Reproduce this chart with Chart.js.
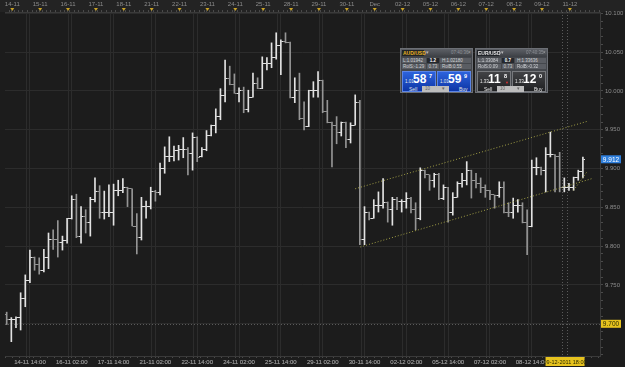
<!DOCTYPE html>
<html>
<head>
<meta charset="utf-8">
<script src="https://cdn.jsdelivr.net/npm/chart.js@4.4.1/dist/chart.umd.min.js"></script>
<style>
html, body { margin: 0; padding: 0; background: #1c1c1c; }
#wrap { position: relative; width: 625px; height: 367px; overflow: hidden; }
canvas { display: block; }
.panel { position: absolute; top: 48px; width: 73px; height: 45px; background: #44474c; border: 1px solid #6c6f75;
  box-sizing: border-box; font-family: "Liberation Sans", Arial, sans-serif; color: #cfd1d4; font-size: 4.5px; }
.panel div, .panel span { position: absolute; white-space: nowrap; }
.hd { left: 0; top: 0; width: 71px; height: 8px; background: linear-gradient(#5d6066, #3c3f44); }
.nm { left: 1px; top: 1px; width: 22px; height: 6px; line-height: 6px; background: #202328; font-weight: bold; font-size: 5px; padding-left: 1px; box-sizing: border-box; }
.dd { left: 25px; top: 1px; line-height: 6px; color: #bbb; }
.tm { left: 50px; top: 1px; line-height: 6px; color: #8e9197; }
.xx { left: 67px; top: 1px; line-height: 6px; color: #aaa; }
.c1 { left: 1px; width: 24px; height: 5px; line-height: 5px; background: #5a5d63; padding-left: 1px; box-sizing: border-box; overflow: hidden; }
.mid { left: 26px; width: 12px; height: 5px; line-height: 5px; background: #25282d; color: #fff; font-weight: bold; text-align: center; }
.c3 { left: 39px; width: 31px; height: 5px; line-height: 5px; background: #5a5d63; padding-left: 2px; box-sizing: border-box; overflow: hidden; }
.btn { top: 22px; width: 34px; height: 21px; }
.blue { background: linear-gradient(#2d63dc, #0d35a6); border: 1px solid #5a84e6; box-sizing: border-box; }
.dark { background: linear-gradient(#424346, #1f2022); border: 1px solid #77797d; box-sizing: border-box; }
.sm { left: 2px; top: 7px; font-size: 4.5px; color: #e8e8e8; }
.big { left: 10px; top: 0px; font-size: 12px; font-weight: bold; color: #fff; }
.sup { left: 26px; top: 1px; font-size: 5.5px; color: #fff; font-weight: bold; }
.lbl { top: 14px; font-size: 5px; color: #e6e6e6; }
.dd2 { left: 21px; top: 37px; width: 27px; height: 6px; line-height: 6px; background: #bdbdbd; color: #666; padding-left: 3px; box-sizing: border-box; }
</style>
</head>
<body>
<div id="wrap">
  <canvas id="myChart" width="625" height="367"></canvas>

  <div class="panel" style="left:400px">
    <div class="hd"><span class="nm" style="color:#e6b422">AUD/USD</span><span class="dd">▾</span><span class="tm">07:40:36</span><span class="xx">×</span></div>
    <div style="top:9px;left:0;width:71px;height:5px"><span class="c1">L:1.01942</span><span class="mid">1.2</span><span class="c3">H:1.02180</span></div>
    <div style="top:15px;left:0;width:71px;height:5px"><span class="c1">RolS:-1.29</span><span class="mid" style="background:#5a5d63;color:#cfd1d4;font-weight:normal">0.73</span><span class="c3">RolB:0.55</span></div>
    <div class="btn blue" style="left:1px"><span class="sm">1.01</span><span class="big">58</span><span class="sup">7</span><span class="lbl" style="left:6px">Sell</span></div>
    <div class="btn blue" style="left:36px"><span class="sm">1.01</span><span class="big">59</span><span class="sup">9</span><span class="lbl" style="left:21px">Buy</span></div>
    <div class="dd2">10 <span style="left:20px;top:0">▾</span></div>
  </div>

  <div class="panel" style="left:475px">
    <div class="hd"><span class="nm" style="color:#e8e8e8">EUR/USD</span><span class="dd">▾</span><span class="tm">07:40:35</span><span class="xx">×</span></div>
    <div style="top:9px;left:0;width:71px;height:5px"><span class="c1">L:1.33084</span><span class="mid">0.7</span><span class="c3">H:1.33636</span></div>
    <div style="top:15px;left:0;width:71px;height:5px"><span class="c1">RolS:0.09</span><span class="mid" style="background:#5a5d63;color:#cfd1d4;font-weight:normal">0.73</span><span class="c3">RolB:-0.32</span></div>
    <div class="btn dark" style="left:1px"><span class="sm">1.33</span><span class="big">11</span><span class="sup">8</span><span style="left:27px;top:8px;font-size:4px;color:#e03030">▼</span><span class="lbl" style="left:6px">Sell</span></div>
    <div class="btn dark" style="left:36px"><span class="sm">1.33</span><span class="big">12</span><span class="sup">0</span><span class="lbl" style="left:21px">Buy</span></div>
    <div class="dd2">10 <span style="left:20px;top:0">▾</span></div>
  </div>
</div>

<script>
// 4H bars
var opens = [
  9.712, 9.705, 9.705, 9.708, 9.732, 9.756, 9.785, 9.776, 9.769, 9.786,
  9.809, 9.808, 9.805, 9.807, 9.836, 9.860, 9.812, 9.838, 9.831, 9.860,
  9.870, 9.843, 9.844, 9.844, 9.872, 9.872, 9.875, 9.874, 9.826, 9.811,
  9.851, 9.851, 9.870, 9.869, 9.900, 9.915, 9.916, 9.923, 9.924, 9.924,
  9.920, 9.940, 9.915, 9.924, 9.943, 9.955, 9.967, 9.994, 10.016, 10.009,
  9.997, 10.001, 9.976, 9.992, 10.010, 10.003, 10.036, 10.036, 10.043, 10.059,
  10.064, 10.063, 9.991, 10.000, 9.965, 9.954, 10.000, 10.000, 10.014, 9.973,
  9.959, 9.955, 9.946, 9.959, 9.938, 9.956, 9.985, 9.808, 9.843, 9.836,
  9.853, 9.853, 9.856, 9.847, 9.860, 9.857, 9.857, 9.862, 9.847, 9.836,
  9.898, 9.892, 9.885, 9.892, 9.862, 9.876, 9.844, 9.863, 9.881, 9.885,
  9.898, 9.885, 9.881, 9.876, 9.872, 9.866, 9.865, 9.876, 9.844, 9.843,
  9.853, 9.853, 9.831, 9.825, 9.901, 9.901, 9.898, 9.918, 9.918, 9.915,
  9.876, 9.876, 9.876, 9.888, 9.896
];
var highs = [
  9.715, 9.708, 9.709, 9.740, 9.763, 9.795, 9.786, 9.785, 9.796, 9.817,
  9.821, 9.833, 9.813, 9.836, 9.865, 9.867, 9.851, 9.847, 9.863, 9.888,
  9.878, 9.871, 9.879, 9.880, 9.885, 9.887, 9.876, 9.874, 9.842, 9.863,
  9.858, 9.876, 9.872, 9.907, 9.928, 9.941, 9.929, 9.930, 9.940, 9.927,
  9.946, 9.941, 9.927, 9.949, 9.956, 9.977, 10.003, 10.040, 10.032, 10.022,
  10.004, 10.005, 10.001, 10.023, 10.017, 10.044, 10.043, 10.062, 10.075, 10.066,
  10.075, 10.063, 10.017, 10.023, 9.986, 10.001, 10.012, 10.025, 10.014, 9.988,
  9.960, 9.967, 9.960, 9.960, 9.959, 9.995, 9.988, 9.851, 9.844, 9.860,
  9.870, 9.887, 9.857, 9.863, 9.863, 9.860, 9.869, 9.863, 9.856, 9.901,
  9.898, 9.892, 9.894, 9.894, 9.879, 9.876, 9.869, 9.883, 9.894, 9.909,
  9.898, 9.894, 9.888, 9.879, 9.872, 9.866, 9.883, 9.883, 9.856, 9.862,
  9.860, 9.856, 9.847, 9.911, 9.914, 9.902, 9.927, 9.947, 9.918, 9.921,
  9.888, 9.881, 9.889, 9.898, 9.915
];
var lows = [
  9.699, 9.677, 9.695, 9.692, 9.722, 9.753, 9.769, 9.764, 9.767, 9.771,
  9.796, 9.786, 9.795, 9.804, 9.835, 9.811, 9.804, 9.817, 9.813, 9.857,
  9.836, 9.835, 9.838, 9.827, 9.865, 9.869, 9.851, 9.826, 9.790, 9.808,
  9.836, 9.848, 9.858, 9.866, 9.894, 9.909, 9.910, 9.911, 9.914, 9.892,
  9.898, 9.909, 9.915, 9.923, 9.942, 9.946, 9.963, 9.986, 10.008, 9.997,
  9.986, 9.972, 9.973, 9.992, 10.003, 10.003, 10.027, 10.030, 10.041, 10.021,
  10.062, 9.991, 9.985, 9.963, 9.950, 9.954, 9.992, 9.992, 9.972, 9.959,
  9.902, 9.932, 9.942, 9.927, 9.933, 9.956, 9.802, 9.802, 9.834, 9.836,
  9.844, 9.849, 9.831, 9.827, 9.847, 9.844, 9.849, 9.843, 9.821, 9.834,
  9.888, 9.872, 9.876, 9.860, 9.860, 9.831, 9.840, 9.863, 9.876, 9.879,
  9.862, 9.875, 9.869, 9.863, 9.860, 9.849, 9.863, 9.843, 9.838, 9.836,
  9.844, 9.830, 9.789, 9.825, 9.892, 9.892, 9.870, 9.915, 9.870, 9.870,
  9.870, 9.872, 9.872, 9.885, 9.888
];
var closes = [
  9.705, 9.705, 9.708, 9.732, 9.756, 9.785, 9.776, 9.769, 9.786, 9.809,
  9.808, 9.805, 9.807, 9.836, 9.860, 9.812, 9.838, 9.831, 9.860, 9.870,
  9.843, 9.844, 9.844, 9.872, 9.872, 9.875, 9.874, 9.826, 9.811, 9.851,
  9.851, 9.870, 9.869, 9.900, 9.915, 9.916, 9.923, 9.924, 9.924, 9.920,
  9.940, 9.914, 9.924, 9.943, 9.955, 9.967, 9.994, 10.016, 10.009, 9.997,
  10.001, 9.976, 9.992, 10.010, 10.003, 10.036, 10.036, 10.043, 10.059, 10.064,
  10.063, 9.991, 10.000, 9.965, 9.954, 10.000, 10.000, 10.014, 9.973, 9.959,
  9.955, 9.946, 9.959, 9.938, 9.956, 9.985, 9.808, 9.843, 9.836, 9.853,
  9.853, 9.856, 9.847, 9.860, 9.857, 9.857, 9.862, 9.847, 9.836, 9.898,
  9.892, 9.885, 9.892, 9.862, 9.876, 9.844, 9.863, 9.881, 9.885, 9.898,
  9.885, 9.881, 9.876, 9.872, 9.866, 9.865, 9.876, 9.844, 9.843, 9.853,
  9.853, 9.831, 9.825, 9.901, 9.901, 9.898, 9.918, 9.918, 9.915, 9.876,
  9.876, 9.876, 9.888, 9.896, 9.912
];

// top axis: day names and the bar where each day starts
var dayLabels = ['14-11','15-11','16-11','17-11','18-11','21-11','22-11','23-11','24-11','25-11',
  '28-11','29-11','30-11','Dec','02-12','05-12','06-12','07-12','08-12','09-12','11-12'];
var dayBars = [1,7,13,19,25,31,37,43,49,55,61,67,73,79,85,91,97,103,109,115,121];

// bottom axis
var timeLabels = ['14-11 14:00','16-11 02:00','17-11 14:00','21-11 02:00','22-11 14:00','24-11 02:00',
  '25-11 14:00','29-11 02:00','30-11 14:00','02-12 02:00','05-12 14:00','07-12 02:00','08-12 14:00'];
var timeBars = [5,14,23,32,41,50,59,68,77,86,95,104,113];

// right axis
var priceTicks = [9.70, 9.75, 9.80, 9.85, 9.90, 9.95, 10.00, 10.05, 10.10];

// channel drawn on the chart (bar, price)
var upperLine = [[75.0, 9.874], [125.0, 9.961]];
var lowerLine = [[76.1, 9.799], [125.9, 9.887]];
var shortLine = [[122.0, 9.872], [124.9, 9.896]];

// cursor
var crossBars = [119.5, 120.6];
var crossPrice = 9.700;
var crossLabel = '09-12-2011 18:00';

var FONT = '"Liberation Sans", Arial, sans-serif';
var UP = '#e2e2e2', DOWN = '#959595';

function tickImg(color, side) {
    var c = document.createElement('canvas');
    c.width = 5; c.height = 1;
    var g = c.getContext('2d');
    g.fillStyle = color;
    g.fillRect(side == 'open' ? 0 : 3, 0, 2, 1);
    return c;
}
var imgs = {
    openUp: tickImg(UP, 'open'), openDown: tickImg(DOWN, 'open'),
    closeUp: tickImg(UP, 'close'), closeDown: tickImg(DOWN, 'close')
};

var isUp = closes.map(function (c, i) { return c >= opens[i]; });

var barData = highs.map(function (h, i) { return { x: i, y: [lows[i], h] }; });
var openData = opens.map(function (o, i) { return { x: i, y: o }; });
var closeData = closes.map(function (c, i) { return { x: i, y: c }; });

function toPts(arr) { return arr.map(function (p) { return { x: p[0], y: p[1] }; }); }

var xMin = -0.363, xMax = 127.68;

function isIn(list, v, eps) {
    for (var i = 0; i < list.length; i++) if (Math.abs(list[i] - v) < eps) return i;
    return -1;
}

var extras = {
    id: 'extras',
    beforeDraw: function (chart) {
        var ctx = chart.ctx, a = chart.chartArea;
        ctx.save();
        ctx.fillStyle = '#1c1c1c';
        ctx.fillRect(0, 0, chart.width, chart.height);
        ctx.fillStyle = '#232323';
        ctx.fillRect(0, 0, chart.width, a.top);
        ctx.restore();
    },
    beforeDatasetsDraw: function (chart) {
        var ctx = chart.ctx, a = chart.chartArea, x = chart.scales.x, y = chart.scales.y;
        ctx.save();
        ctx.strokeStyle = '#5a5a5a';
        ctx.lineWidth = 1;
        ctx.setLineDash([1, 2]);
        crossBars.forEach(function (b) {
            var px = Math.round(x.getPixelForValue(b)) + 0.5;
            ctx.beginPath(); ctx.moveTo(px, a.top); ctx.lineTo(px, a.bottom); ctx.stroke();
        });
        var py = Math.round(y.getPixelForValue(crossPrice)) + 0.5;
        ctx.beginPath(); ctx.moveTo(a.left, py); ctx.lineTo(a.right, py); ctx.stroke();
        ctx.restore();
    },
    afterDraw: function (chart) {
        var ctx = chart.ctx, a = chart.chartArea, x = chart.scales.x, y = chart.scales.y, xt = chart.scales.xTop;
        ctx.save();
        // day markers on the top axis
        ctx.fillStyle = '#c9a227';
        dayBars.forEach(function (b) {
            var px = xt.getPixelForValue(b + 0.2);
            ctx.beginPath();
            ctx.moveTo(px - 2, a.top - 4);
            ctx.lineTo(px + 2, a.top - 4);
            ctx.lineTo(px, a.top - 1);
            ctx.closePath();
            ctx.fill();
        });
        ctx.font = '6.5px ' + FONT;
        ctx.textBaseline = 'middle';
        ctx.textAlign = 'center';
        // last price box
        var last = closes[closes.length - 1];
        var ly = y.getPixelForValue(last);
        ctx.fillStyle = '#2f7fdc';
        ctx.fillRect(a.right + 1, ly - 4, 20, 8);
        ctx.fillStyle = '#ffffff';
        ctx.fillText(last.toFixed(3), a.right + 11, ly + 0.5);
        // cursor price box
        var cy = y.getPixelForValue(crossPrice);
        ctx.fillStyle = '#e6c21e';
        ctx.fillRect(a.right + 1, cy - 4, 20, 8);
        ctx.fillStyle = '#2a2a00';
        ctx.fillText(crossPrice.toFixed(3), a.right + 11, cy + 0.5);
        // cursor time box
        var cx = x.getPixelForValue((crossBars[0] + crossBars[1]) / 2);
        ctx.font = '5.5px ' + FONT;
        ctx.fillStyle = '#e6c21e';
        ctx.fillRect(cx - 19, a.bottom + 1, 39, 9);
        ctx.fillStyle = '#2a2a00';
        ctx.fillText(crossLabel, cx + 0.5, a.bottom + 6);
        ctx.restore();
    }
};

var ctx = document.getElementById('myChart');
var myChart = new Chart(ctx, {
    type: 'bar',
    data: {
        datasets: [
            {
                type: 'line', data: toPts(upperLine), borderColor: '#a19f45', borderWidth: 1,
                borderDash: [1, 2], pointRadius: 0, order: 0
            },
            {
                type: 'line', data: toPts(lowerLine), borderColor: '#a19f45', borderWidth: 1,
                borderDash: [1, 2], pointRadius: 0, order: 0
            },
            {
                type: 'line', data: toPts(shortLine), borderColor: '#a19f45', borderWidth: 1,
                borderDash: [1, 2], pointRadius: 0, order: 0
            },
            {
                type: 'bar', data: barData, barThickness: 1, grouped: false, borderWidth: 0,
                backgroundColor: isUp.map(function (u) { return u ? UP : DOWN; }), order: 3
            },
            {
                type: 'scatter', data: openData, pointRadius: 2, order: 2,
                pointStyle: isUp.map(function (u) { return u ? imgs.openUp : imgs.openDown; })
            },
            {
                type: 'scatter', data: closeData, pointRadius: 2, order: 2,
                pointStyle: isUp.map(function (u) { return u ? imgs.closeUp : imgs.closeDown; })
            }
        ]
    },
    options: {
        responsive: false,
        animation: false,
        events: [],
        layout: { padding: 0 },
        plugins: { legend: { display: false }, tooltip: { enabled: false } },
        scales: {
            x: {
                type: 'linear', position: 'bottom', min: xMin, max: xMax, offset: false,
                afterBuildTicks: function (s) {
                    var t = [];
                    for (var v = 0.5; v < xMax; v += 1.5) t.push({ value: v });
                    timeBars.forEach(function (b) { t.push({ value: b }); });
                    t.sort(function (p, q) { return p.value - q.value; });
                    s.ticks = t;
                },
                afterFit: function (s) { s.height = 11; },
                ticks: {
                    autoSkip: false, maxRotation: 0, padding: 1, color: '#8c8c8c',
                    font: { size: 6, family: FONT },
                    callback: function (v) { var i = timeBars.indexOf(v); return i >= 0 ? timeLabels[i] : ''; }
                },
                grid: {
                    color: function (c) { return c.tick && timeBars.indexOf(c.tick.value) >= 0 ? '#2c2c2c' : 'rgba(0,0,0,0)'; },
                    tickColor: '#4a4a4a', tickLength: 2
                },
                border: { color: '#3a3a3a' }
            },
            xTop: {
                type: 'linear', position: 'top', min: xMin, max: xMax, offset: false,
                afterBuildTicks: function (s) {
                    var t = [];
                    for (var v = 0; v < xMax; v += 1) t.push({ value: v });
                    dayBars.forEach(function (b) { t.push({ value: b + 0.2 }); });
                    t.sort(function (p, q) { return p.value - q.value; });
                    s.ticks = t;
                },
                afterFit: function (s) { s.height = 12; },
                ticks: {
                    autoSkip: false, maxRotation: 0, padding: 2, color: '#8c8c8c',
                    font: { size: 6, family: FONT },
                    callback: function (v) {
                        var i = isIn(dayBars.map(function (b) { return b + 0.2; }), v, 0.01);
                        return i >= 0 ? dayLabels[i] : '';
                    }
                },
                grid: { drawOnChartArea: false, tickColor: '#4a4a4a', tickLength: 2 },
                border: { color: '#3a3a3a' }
            },
            y: {
                position: 'right', min: 9.6585, max: 10.1018,
                afterBuildTicks: function (s) {
                    var t = [];
                    for (var v = 9.66; v < 10.1018; v += 0.01) t.push({ value: Math.round(v * 100) / 100 });
                    s.ticks = t;
                },
                afterFit: function (s) { s.width = 25; },
                ticks: {
                    autoSkip: false, padding: 2, color: '#8c8c8c', font: { size: 6, family: FONT },
                    callback: function (v) { return isIn(priceTicks, v, 0.001) >= 0 ? v.toFixed(3) : ''; }
                },
                grid: {
                    color: function (c) { return c.tick && isIn(priceTicks, c.tick.value, 0.001) >= 0 ? '#2c2c2c' : 'rgba(0,0,0,0)'; },
                    tickColor: '#4a4a4a', tickLength: 3
                },
                border: { color: '#3a3a3a' }
            }
        }
    },
    plugins: [extras]
});
</script>
</body>
</html>
